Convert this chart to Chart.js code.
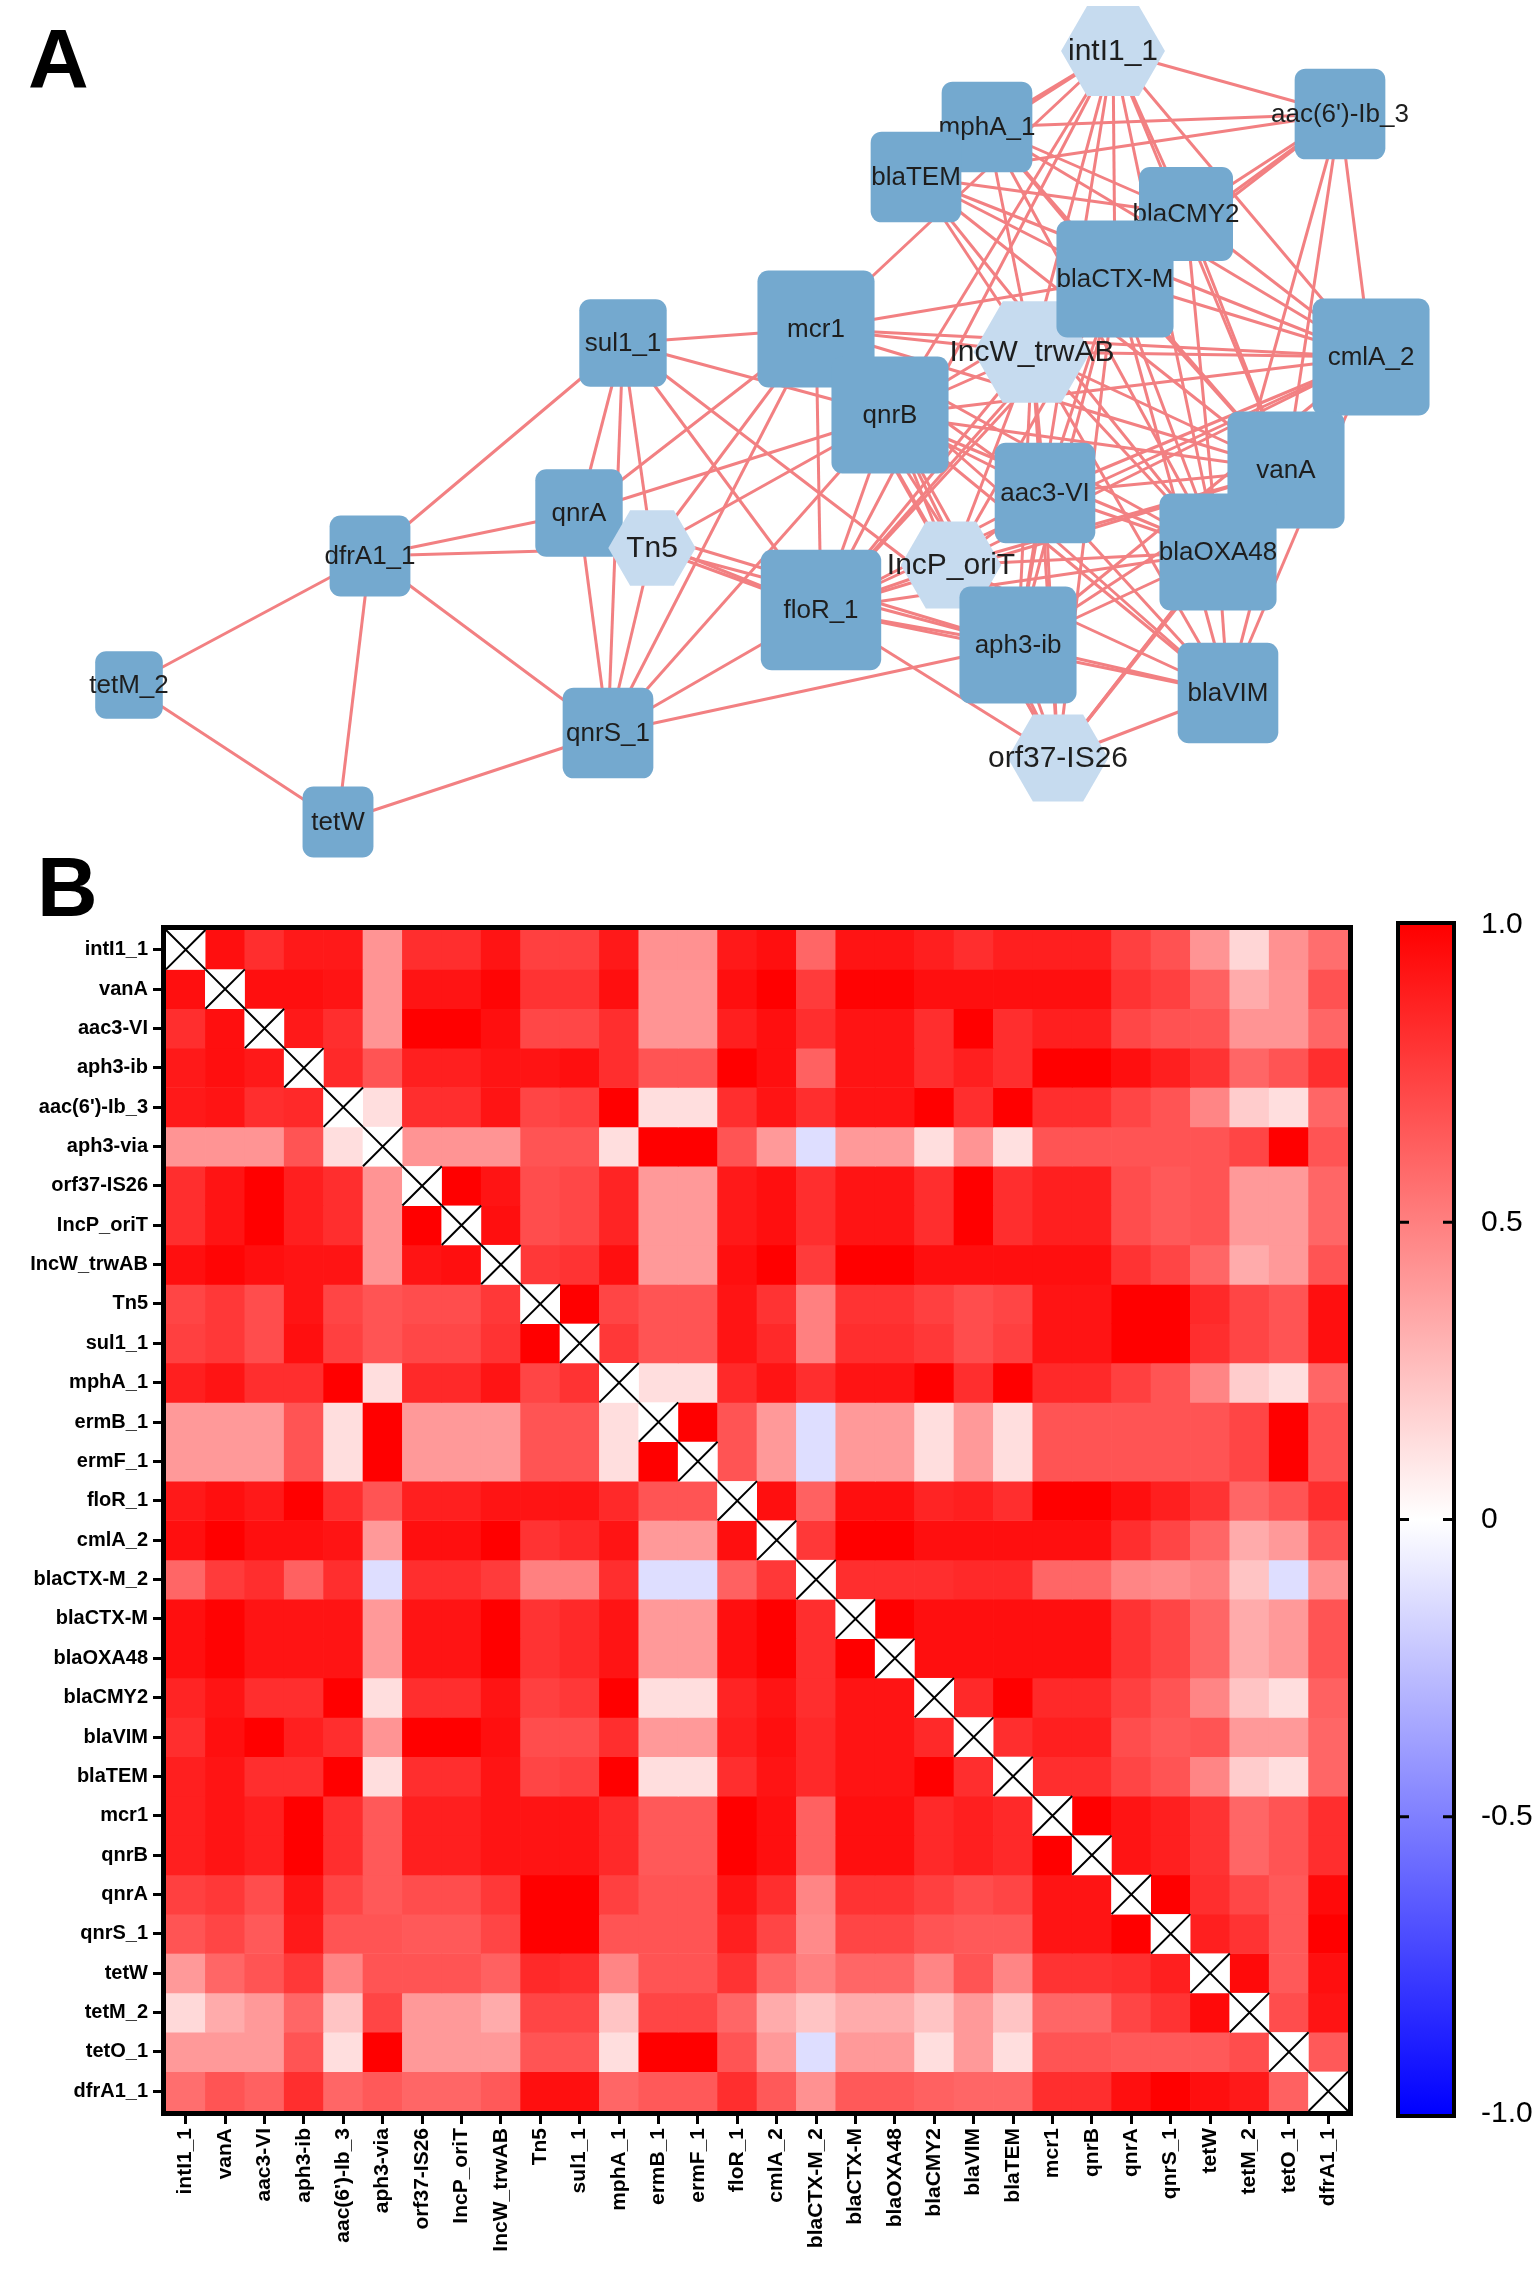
<!DOCTYPE html>
<html>
<head>
<meta charset="utf-8">
<script src="https://cdn.jsdelivr.net/npm/chart.js@4.4.0/dist/chart.umd.min.js"></script>
<style>
  html, body { margin: 0; padding: 0; background: #fff; }
  body { width: 1535px; height: 2276px; position: relative; overflow: hidden; font-family: "Liberation Sans", Arial, sans-serif; }
  canvas { position: absolute; }
  .panel { position: absolute; font-weight: bold; font-size: 84px; line-height: 84px; color: #000; }
</style>
</head>
<body>
<div class="panel" style="left:28px;top:17px">A</div>
<div class="panel" style="left:37px;top:845px">B</div>
<canvas id="netChart" width="1535" height="860" style="left:0;top:0"></canvas>
<canvas id="heatChart" width="1380" height="1416" style="left:0;top:860px"></canvas>
<canvas id="scaleChart" width="155" height="1280" style="left:1380px;top:880px"></canvas>

<script>
// --- data ---
const genes = ["intI1_1", "vanA", "aac3-VI", "aph3-ib", "aac(6')-Ib_3", "aph3-via", "orf37-IS26",
  "IncP_oriT", "IncW_trwAB", "Tn5", "sul1_1", "mphA_1", "ermB_1", "ermF_1", "floR_1", "cmlA_2",
  "blaCTX-M_2", "blaCTX-M", "blaOXA48", "blaCMY2", "blaVIM", "blaTEM", "mcr1", "qnrB", "qnrA",
  "qnrS_1", "tetW", "tetM_2", "tetO_1", "dfrA1_1"];

// correlation matrix, one row per gene (null = diagonal)
const corr = [
  [null, .94, .82, .9, .9, .42, .82, .82, .92, .75, .75, .9, .43, .43, .9, .94, .6, .92, .92, .88, .82, .88, .88, .88, .75, .68, .42, .16, .43, .57],
  [.94, null, .94, .94, .92, .42, .92, .92, .98, .8, .8, .94, .42, .42, .94, 1, .77, .99, .99, .94, .94, .94, .94, .94, .8, .75, .62, .33, .42, .68],
  [.82, .94, null, .9, .82, .42, 1, 1, .94, .72, .72, .82, .42, .42, .88, .94, .82, .92, .92, .82, 1, .82, .88, .88, .72, .68, .67, .42, .42, .6],
  [.9, .94, .9, null, .84, .67, .88, .88, .92, .92, .94, .82, .67, .67, 1, .94, .62, .92, .92, .82, .88, .82, 1, 1, .94, .88, .8, .6, .67, .82],
  [.9, .92, .82, .84, null, .13, .82, .82, .92, .73, .75, 1, .13, .13, .82, .92, .82, .92, .92, 1, .82, 1, .82, .82, .73, .67, .48, .2, .13, .6],
  [.42, .42, .42, .67, .13, null, .42, .42, .42, .67, .67, .13, 1, 1, .67, .4, -.13, .4, .4, .13, .42, .12, .67, .67, .67, .67, .67, .73, 1, .67],
  [.82, .92, 1, .88, .82, .42, null, 1, .92, .7, .72, .86, .4, .4, .9, .94, .82, .92, .92, .82, 1, .82, .88, .88, .7, .65, .67, .4, .4, .6],
  [.82, .92, 1, .88, .82, .42, 1, null, .94, .7, .72, .86, .4, .4, .9, .94, .82, .92, .92, .82, 1, .82, .88, .88, .7, .65, .67, .4, .4, .6],
  [.94, .98, .94, .92, .92, .42, .92, .94, null, .78, .8, .94, .4, .4, .94, 1, .77, 1, 1, .94, .94, .94, .94, .94, .8, .73, .6, .33, .4, .67],
  [.73, .78, .7, .92, .73, .67, .7, .7, .78, null, 1, .73, .67, .67, .92, .8, .5, .8, .8, .75, .7, .73, .92, .92, 1, 1, .84, .73, .67, .94],
  [.75, .78, .7, .94, .75, .67, .72, .72, .8, 1, null, .78, .67, .67, .92, .84, .5, .82, .82, .78, .7, .75, .92, .92, 1, 1, .82, .73, .67, .94],
  [.88, .92, .82, .82, 1, .13, .84, .84, .92, .73, .8, null, .13, .13, .84, .92, .82, .92, .92, 1, .82, 1, .84, .84, .75, .67, .48, .2, .13, .6],
  [.4, .4, .4, .67, .13, 1, .4, .4, .4, .67, .67, .13, null, 1, .67, .4, -.13, .4, .4, .13, .4, .13, .67, .67, .67, .67, .67, .73, 1, .67],
  [.4, .4, .4, .67, .13, 1, .4, .4, .4, .67, .67, .13, 1, null, .67, .4, -.13, .4, .4, .13, .4, .13, .67, .67, .67, .67, .67, .73, 1, .67],
  [.9, .94, .9, 1, .82, .67, .88, .88, .92, .92, .92, .84, .67, .67, null, .94, .62, .94, .94, .86, .88, .82, 1, 1, .94, .88, .8, .6, .67, .82],
  [.94, 1, .94, .94, .92, .4, .94, .94, 1, .8, .84, .92, .4, .4, .94, null, .78, 1, 1, .94, .94, .94, .94, .94, .82, .73, .6, .33, .4, .67],
  [.6, .77, .82, .62, .82, -.13, .82, .82, .77, .5, .5, .82, -.13, -.13, .62, .78, null, .82, .82, .82, .84, .84, .6, .6, .48, .46, .5, .23, -.13, .43],
  [.94, .99, .92, .92, .92, .4, .92, .92, 1, .8, .84, .92, .4, .4, .94, 1, .82, null, 1, .94, .94, .94, .94, .94, .8, .73, .6, .33, .4, .67],
  [.94, .99, .92, .92, .92, .4, .92, .92, 1, .8, .84, .92, .4, .4, .94, 1, .82, 1, null, .94, .94, .94, .94, .94, .8, .73, .6, .33, .4, .67],
  [.86, .92, .82, .82, 1, .13, .82, .82, .92, .75, .78, 1, .13, .13, .86, .92, .82, .92, .92, null, .84, 1, .84, .84, .75, .67, .48, .23, .13, .62],
  [.82, .94, 1, .88, .82, .42, 1, 1, .94, .7, .7, .82, .4, .4, .88, .94, .84, .92, .92, .84, null, .82, .88, .88, .7, .65, .67, .4, .4, .6],
  [.88, .92, .82, .82, 1, .13, .82, .82, .92, .73, .75, 1, .13, .13, .82, .92, .84, .92, .92, 1, .82, null, .82, .82, .73, .67, .48, .2, .13, .6],
  [.88, .92, .88, 1, .82, .65, .88, .88, .92, .92, .92, .84, .65, .65, 1, .94, .62, .94, .94, .84, .88, .84, null, 1, .92, .88, .8, .6, .67, .82],
  [.88, .92, .88, 1, .82, .65, .88, .88, .92, .92, .92, .84, .65, .65, 1, .94, .62, .94, .94, .84, .88, .84, 1, null, .92, .88, .8, .6, .67, .82],
  [.75, .78, .7, .92, .73, .65, .7, .7, .78, 1, 1, .75, .67, .67, .92, .82, .48, .8, .8, .75, .7, .73, .92, .92, null, 1, .82, .72, .65, .96],
  [.67, .73, .65, .9, .67, .67, .65, .65, .73, 1, 1, .67, .67, .67, .88, .73, .46, .73, .73, .67, .65, .65, .92, .92, 1, null, .88, .8, .65, 1],
  [.4, .6, .67, .78, .48, .67, .67, .67, .62, .84, .82, .48, .67, .67, .8, .6, .5, .6, .6, .48, .67, .48, .8, .8, .82, .88, null, .96, .65, .94],
  [.15, .33, .4, .6, .23, .73, .4, .4, .33, .73, .73, .23, .73, .73, .6, .33, .23, .33, .33, .23, .4, .23, .6, .6, .73, .8, .96, null, .7, .92],
  [.4, .4, .4, .67, .13, 1, .4, .4, .4, .67, .67, .13, 1, 1, .67, .4, -.13, .4, .4, .13, .4, .13, .67, .67, .65, .65, .65, .7, null, .65],
  [.57, .67, .62, .82, .6, .65, .6, .6, .65, .94, .94, .6, .65, .65, .82, .65, .43, .65, .65, .62, .6, .6, .82, .82, .94, 1, .94, .9, .62, null]
];

// network: nodes (in drawing order) and their layout coordinates
const netNodes = ["tetM_2", "tetW", "dfrA1_1", "sul1_1", "qnrA", "Tn5", "qnrS_1", "mcr1", "qnrB",
  "IncW_trwAB", "intI1_1", "mphA_1", "blaTEM", "blaCMY2", "blaCTX-M", "aac(6')-Ib_3", "cmlA_2",
  "vanA", "blaOXA48", "aac3-VI", "IncP_oriT", "floR_1", "aph3-ib", "blaVIM", "orf37-IS26"];
const nodeX = [129, 338, 370, 623, 579, 652, 608, 816, 890, 1032, 1113, 987, 916, 1186, 1115, 1340, 1371,
  1286, 1218, 1045, 951, 821, 1018, 1228, 1058];
const nodeY = [685, 822, 556, 343, 513, 548, 733, 329, 415, 352, 51, 127, 177, 214, 279, 114, 357,
  470, 552, 493, 565, 610, 645, 693, 758];
const mobileElements = ["intI1_1", "IncW_trwAB", "Tn5", "IncP_oriT", "orf37-IS26"];
const edgeCutoff = 0.86;

const colorTicks = [-1, -0.5, 0, 0.5, 1];

const FONT = "'Liberation Sans', Arial, sans-serif";

// --- network edges from the correlation matrix ---
const edges = [];
netNodes.forEach((a, i) => {
  netNodes.forEach((b, j) => {
    if (j <= i) return;
    const ia = genes.indexOf(a), ib = genes.indexOf(b);
    const r = (corr[ia][ib] + corr[ib][ia]) / 2;
    if (r >= edgeCutoff) edges.push([i, j]);
  });
});
const degree = netNodes.map((_, i) => edges.filter(e => e[0] === i || e[1] === i).length);
const isHex = i => mobileElements.includes(netNodes[i]);
// node size grows with the number of links
const nodeSize = i => 61 + 3.3 * degree[i];

const nodePlugin = {
  id: "nodes",
  afterDatasetsDraw(chart) {
    const meta = chart.getDatasetMeta(chart.data.datasets.length - 1);
    const ctx = chart.ctx;
    meta.data.forEach((pt, i) => {
      const s = nodeSize(i);
      ctx.save();
      ctx.beginPath();
      if (isHex(i)) {
        const R = s / 2, h = R * 0.866;
        ctx.moveTo(pt.x - R, pt.y);
        ctx.lineTo(pt.x - R / 2, pt.y - h);
        ctx.lineTo(pt.x + R / 2, pt.y - h);
        ctx.lineTo(pt.x + R, pt.y);
        ctx.lineTo(pt.x + R / 2, pt.y + h);
        ctx.lineTo(pt.x - R / 2, pt.y + h);
        ctx.closePath();
        ctx.fillStyle = "#c6dbef";
      } else {
        const x0 = pt.x - s / 2, y0 = pt.y - s / 2, r = 11;
        ctx.moveTo(x0 + r, y0);
        ctx.arcTo(x0 + s, y0, x0 + s, y0 + s, r);
        ctx.arcTo(x0 + s, y0 + s, x0, y0 + s, r);
        ctx.arcTo(x0, y0 + s, x0, y0, r);
        ctx.arcTo(x0, y0, x0 + s, y0, r);
        ctx.closePath();
        ctx.fillStyle = "#74a9cf";
      }
      ctx.fill();
      ctx.fillStyle = "#1e1e1e";
      ctx.font = (isHex(i) ? "30px " : "26px ") + FONT;
      ctx.textAlign = "center";
      ctx.textBaseline = "middle";
      ctx.fillText(netNodes[i], pt.x, pt.y + 1);
      ctx.restore();
    });
  }
};

const edgeSets = edges.map(([a, b]) => ({
  data: [{ x: nodeX[a], y: nodeY[a] }, { x: nodeX[b], y: nodeY[b] }],
  showLine: true,
  borderColor: "rgb(242,128,130)",
  borderWidth: 3,
  pointRadius: 0
}));

new Chart(document.getElementById("netChart"), {
  type: "scatter",
  data: {
    datasets: edgeSets.concat([{
      label: "nodes",
      data: netNodes.map((_, i) => ({ x: nodeX[i], y: nodeY[i] })),
      pointRadius: 0
    }])
  },
  options: {
    responsive: false,
    animation: false,
    layout: { padding: 0 },
    plugins: { legend: { display: false }, tooltip: { enabled: false } },
    scales: {
      x: { display: false, min: 0, max: 1535 },
      y: { display: false, min: 0, max: 860, reverse: true }
    }
  },
  plugins: [nodePlugin]
});

// --- heatmap ---
function cellColor(v) {
  if (v === null) return "#ffffff";
  const t = Math.round(255 * (1 - Math.min(1, Math.abs(v))));
  return v >= 0 ? `rgb(255,${t},${t})` : `rgb(${t},${t},255)`;
}

const framePlugin = {
  id: "frame",
  afterDraw(chart, args, opts) {
    const a = chart.chartArea, ctx = chart.ctx, w = opts.width;
    ctx.save();
    ctx.strokeStyle = "#000";
    ctx.lineWidth = w;
    ctx.strokeRect(a.left - w / 2, a.top - w / 2, a.right - a.left + w, a.bottom - a.top + w);
    ctx.restore();
  }
};

const crossPlugin = {
  id: "cross",
  afterDatasetsDraw(chart) {
    const ctx = chart.ctx;
    ctx.save();
    ctx.strokeStyle = "#000";
    ctx.lineWidth = 2;
    chart.data.datasets.forEach((ds, i) => {
      const bar = chart.getDatasetMeta(i).data[i];
      const p = bar.getProps(["x", "y", "base", "width"], true);
      const top = Math.min(p.y, p.base), bot = Math.max(p.y, p.base);
      const l = p.x - p.width / 2, r = p.x + p.width / 2;
      ctx.fillStyle = "#fff";
      ctx.fillRect(l, top, r - l, bot - top);
      ctx.beginPath();
      ctx.moveTo(l, top); ctx.lineTo(r, bot);
      ctx.moveTo(r, top); ctx.lineTo(l, bot);
      ctx.stroke();
    });
    ctx.restore();
  }
};

new Chart(document.getElementById("heatChart"), {
  type: "bar",
  data: {
    labels: genes,
    datasets: genes.map((g, i) => ({
      label: g,
      data: genes.map(() => [i, i + 1]),
      backgroundColor: corr[i].map(cellColor),
      grouped: false,
      barPercentage: 1,
      categoryPercentage: 1,
      borderWidth: 0
    }))
  },
  options: {
    responsive: false,
    animation: false,
    layout: { padding: { top: 70, right: 32, left: 0, bottom: 0 } },
    plugins: { legend: { display: false }, tooltip: { enabled: false }, frame: { width: 5 } },
    scales: {
      x: {
        offset: true,
        grid: { display: true, drawOnChartArea: false, offset: false, tickLength: 13, tickWidth: 3, tickColor: "#000" },
        border: { display: false },
        ticks: { autoSkip: false, maxRotation: 90, minRotation: 90, padding: 4, color: "#000",
          font: { family: FONT, size: 21, weight: "bold" } },
        afterFit: axis => { axis.height = 165; }
      },
      y: {
        min: 0,
        max: genes.length,
        reverse: true,
        afterBuildTicks: axis => { axis.ticks = genes.map((_, i) => ({ value: i + 0.5 })); },
        grid: { display: true, drawOnChartArea: false, tickLength: 13, tickWidth: 3, tickColor: "#000" },
        border: { display: false },
        ticks: { padding: 5, color: "#000", font: { family: FONT, size: 20, weight: "bold" },
          callback: v => genes[Math.floor(v)] },
        afterFit: axis => { axis.width = 166; }
      }
    }
  },
  plugins: [crossPlugin, framePlugin]
});

// --- colour scale bar ---
const scaleTickPlugin = {
  id: "scaleTicks",
  afterDraw(chart) {
    const a = chart.chartArea, ctx = chart.ctx, y = chart.scales.y;
    ctx.save();
    ctx.strokeStyle = "#000";
    ctx.lineWidth = 3;
    colorTicks.filter(v => Math.abs(v) < 1).forEach(v => {
      const py = y.getPixelForValue(v);
      ctx.beginPath();
      ctx.moveTo(a.left, py); ctx.lineTo(a.left + 9, py);
      ctx.moveTo(a.right - 9, py); ctx.lineTo(a.right, py);
      ctx.stroke();
    });
    ctx.restore();
  }
};

new Chart(document.getElementById("scaleChart"), {
  type: "bar",
  data: {
    labels: [""],
    datasets: [{
      data: [[colorTicks[0], colorTicks[colorTicks.length - 1]]],
      barPercentage: 1,
      categoryPercentage: 1,
      borderWidth: 0,
      backgroundColor: c => {
        const { ctx, chartArea } = c.chart;
        if (!chartArea) return "#fff";
        const g = ctx.createLinearGradient(0, chartArea.bottom, 0, chartArea.top);
        g.addColorStop(0, "#0000ff");
        g.addColorStop(0.5, "#ffffff");
        g.addColorStop(1, "#ff0000");
        return g;
      }
    }]
  },
  options: {
    responsive: false,
    animation: false,
    layout: { padding: { left: 20, top: 45, bottom: 46, right: 0 } },
    plugins: { legend: { display: false }, tooltip: { enabled: false }, frame: { width: 4 } },
    scales: {
      x: { display: false },
      y: {
        position: "right",
        min: -1,
        max: 1,
        afterBuildTicks: axis => { axis.ticks = colorTicks.map(v => ({ value: v })); },
        grid: { display: false },
        border: { display: false },
        ticks: { padding: 21, color: "#000", font: { family: FONT, size: 30 },
          callback: v => v === 0 ? "0" : v.toFixed(1) },
        afterFit: axis => { axis.width = 83; }
      }
    }
  },
  plugins: [framePlugin, scaleTickPlugin]
});
</script>
</body>
</html>
